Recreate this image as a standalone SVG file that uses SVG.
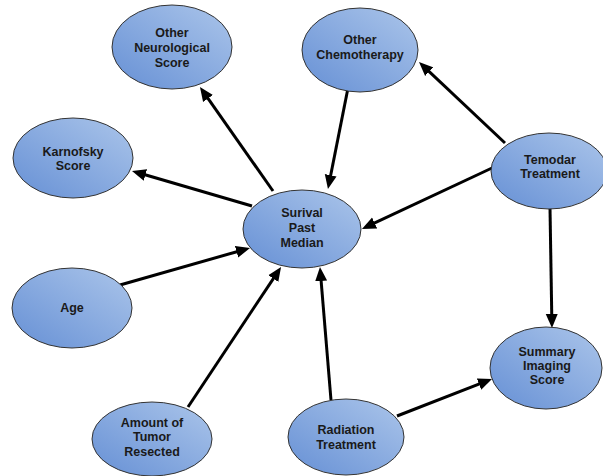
<svg xmlns="http://www.w3.org/2000/svg" width="603" height="476" viewBox="0 0 603 476">
<defs>
<linearGradient id="g" x1="0" y1="1" x2="1" y2="0">
<stop offset="0" stop-color="#6690d5"/>
<stop offset="1" stop-color="#abc5ea"/>
</linearGradient>
<marker id="ah" markerUnits="userSpaceOnUse" markerWidth="15" markerHeight="13" viewBox="0 0 15 13" refX="4" refY="6.5" orient="auto">
<path d="M0,0.5 L14,6.5 L0,12.5 z" fill="#000"/>
</marker>
<style>
.n ellipse{fill:url(#g);stroke:#333;stroke-width:1}
.n text{font-family:"Liberation Sans",Arial,sans-serif;font-weight:bold;font-size:12.5px;fill:#1a1a1a;text-anchor:middle}
.c path{stroke:#000;stroke-width:3;fill:none;marker-end:url(#ah)}
</style>
</defs>
<rect width="603" height="476" fill="#fff"/>
<g id="connectors" class="c">
<path d="M273,191 L205.7,95.2"/>
<path d="M348,88 L329.9,179.2"/>
<path d="M505,143 L426.3,68.9"/>
<path d="M492,168 L371,224.7"/>
<path d="M252,206 L141.6,173.8"/>
<path d="M120,285 L240.4,250.7"/>
<path d="M188,407 L275.5,275.3"/>
<path d="M331,400 L320.8,277"/>
<path d="M397,416 L482.7,382.6"/>
<path d="M550,208 L551.8,318"/>
</g>
<g id="other-neuro" class="n"><ellipse cx="172" cy="47" rx="60" ry="42"/><text x="172" y="37">Other</text><text x="172" y="52">Neurological</text><text x="172" y="67">Score</text></g>
<g id="other-chemo" class="n"><ellipse cx="360" cy="50" rx="58" ry="42"/><text x="360" y="44">Other</text><text x="360" y="59">Chemotherapy</text></g>
<g id="karnofsky" class="n"><ellipse cx="73" cy="158" rx="60" ry="40"/><text x="73" y="156">Karnofsky</text><text x="73" y="170">Score</text></g>
<g id="temodar" class="n"><ellipse cx="549" cy="171" rx="58" ry="38"/><text x="550" y="164">Temodar</text><text x="550" y="178">Treatment</text></g>
<g id="survival" class="n"><ellipse cx="302" cy="229" rx="59" ry="39"/><text x="302" y="217">Surival</text><text x="302" y="232">Past</text><text x="302" y="247">Median</text></g>
<g id="age" class="n"><ellipse cx="72" cy="308" rx="60" ry="40"/><text x="72" y="312">Age</text></g>
<g id="amount" class="n"><ellipse cx="152" cy="439" rx="60" ry="37"/><text x="152" y="427">Amount of</text><text x="152" y="441">Tumor</text><text x="152" y="456">Resected</text></g>
<g id="radiation" class="n"><ellipse cx="346" cy="437" rx="58" ry="38"/><text x="346" y="434">Radiation</text><text x="346" y="449">Treatment</text></g>
<g id="summary" class="n"><ellipse cx="546" cy="368" rx="56" ry="41"/><text x="547" y="356">Summary</text><text x="547" y="370">Imaging</text><text x="547" y="384">Score</text></g>
</svg>
